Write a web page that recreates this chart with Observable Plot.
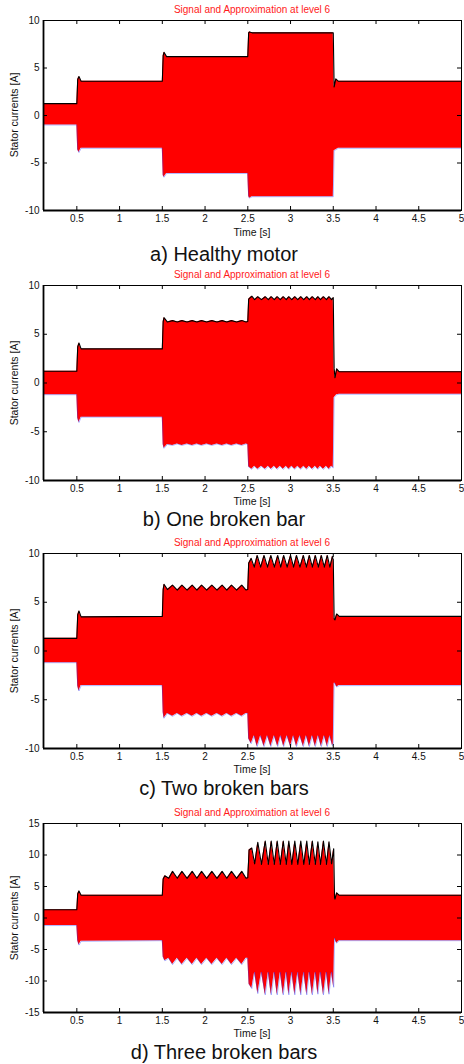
<!DOCTYPE html>
<html><head><meta charset="utf-8">
<script src="https://cdn.jsdelivr.net/npm/d3@7"></script>
<script src="https://cdn.jsdelivr.net/npm/@observablehq/plot@0.6"></script>
<style>
body{margin:0;background:#fff;}
#root{position:relative;width:464px;height:1064px;overflow:hidden;font-family:"Liberation Sans",Arial,sans-serif;background:#fff;}
.lbl{position:absolute;white-space:nowrap;line-height:1;transform:translate(-50%,-50%);}
.ttl{color:#ff1a1a;font-size:10px;}
.xl{font-size:10.5px;color:#111;}
.yl{font-size:10.5px;color:#111;transform:translate(-50%,-50%) rotate(-90deg);}
.cap{font-size:20px;color:#111;}
svg{position:absolute;left:0;overflow:visible;}
</style></head><body><div id="root"></div>
<script>
// ---- texts and ticks ----
const panelTitle = "Signal and Approximation at level 6";
const xLabel = "Time [s]";
const yLabel = "Stator currents [A]";
const captions = ["a) Healthy motor", "b) One broken bar", "c) Two broken bars", "d) Three broken bars"];
const xTicks = [0.5, 1, 1.5, 2, 2.5, 3, 3.5, 4, 4.5, 5];
const yTicks10 = [-10, -5, 0, 5, 10];
const yTicks15 = [-15, -10, -5, 0, 5, 10, 15];

// ---- a) healthy motor: envelope of stator current ----
const healthyT  = [0.10, 0.50, 0.51, 0.525, 0.55, 1.50, 1.51, 1.52, 1.55, 2.50, 2.51, 2.52, 2.55, 3.50, 3.51, 3.53, 3.56, 5.00];
const healthyUp = [1.25, 1.25, 3.8, 4.1, 3.6, 3.6, 6.3, 6.65, 6.2, 6.2, 8.7, 8.8, 8.7, 8.7, 3.0, 3.85, 3.6, 3.6];
const healthyLo = [-1.0, -1.0, -3.6, -3.9, -3.45, -3.45, -6.3, -6.5, -6.1, -6.1, -8.5, -8.7, -8.55, -8.55, -3.7, -3.6, -3.45, -3.45];

// ---- b) one broken bar ----
const oneT = [0.10, 0.50, 0.51, 0.525, 0.55, 1.50, 1.51, 1.52, 1.56,
  1.62, 1.675, 1.73, 1.79, 1.85, 1.905, 1.96, 2.02, 2.08, 2.14, 2.20, 2.255, 2.31, 2.37, 2.43, 2.48,
  2.50, 2.51,
  2.547, 2.58, 2.617, 2.66, 2.704, 2.74, 2.774, 2.81, 2.844, 2.88, 2.915, 2.95, 2.98, 3.015, 3.05, 3.085, 3.12, 3.155, 3.19, 3.22, 3.255, 3.29, 3.32, 3.35, 3.385, 3.42, 3.45, 3.48,
  3.50, 3.51, 3.52, 3.54, 3.57, 5.00];
const oneUp = [1.2, 1.2, 3.7, 4.1, 3.5, 3.5, 6.3, 6.7, 6.25,
  6.4, 6.25, 6.4, 6.25, 6.4, 6.25, 6.4, 6.25, 6.4, 6.25, 6.4, 6.25, 6.4, 6.25, 6.4, 6.25,
  6.3, 8.6,
  8.9, 8.55, 8.85, 8.55, 8.85, 8.55, 8.85, 8.55, 8.85, 8.55, 8.85, 8.55, 8.85, 8.55, 8.85, 8.55, 8.85, 8.55, 8.85, 8.55, 8.85, 8.55, 8.85, 8.55, 8.85, 8.55, 8.85, 8.55,
  8.75, 1.5, 0.55, 1.45, 1.15, 1.15];
const oneLo = [-1.2, -1.2, -3.6, -4.05, -3.5, -3.5, -6.3, -6.7, -6.3,
  -6.4, -6.25, -6.4, -6.25, -6.4, -6.25, -6.4, -6.25, -6.4, -6.25, -6.4, -6.25, -6.4, -6.25, -6.4, -6.25,
  -6.3, -8.6,
  -8.85, -8.55, -8.85, -8.55, -8.85, -8.55, -8.85, -8.55, -8.85, -8.55, -8.85, -8.55, -8.85, -8.55, -8.85, -8.55, -8.85, -8.55, -8.85, -8.55, -8.85, -8.55, -8.85, -8.55, -8.85, -8.55, -8.85, -8.55,
  -8.7, -1.5, -1.4, -1.2, -1.15, -1.15];

// ---- c) two broken bars ----
const twoT = [0.10, 0.50, 0.51, 0.525, 0.55, 1.50, 1.51, 1.52, 1.56,
  1.62, 1.675, 1.73, 1.79, 1.85, 1.905, 1.96, 2.02, 2.08, 2.14, 2.20, 2.255, 2.31, 2.37, 2.43, 2.48,
  2.50, 2.51,
  2.54, 2.575, 2.61, 2.65, 2.69, 2.73, 2.77, 2.81, 2.85, 2.885, 2.92, 2.96, 3.00, 3.035, 3.07, 3.11, 3.15, 3.185, 3.22, 3.255, 3.29, 3.325, 3.36, 3.395, 3.43, 3.46, 3.49, 3.495,
  3.50, 3.51, 3.52, 3.54, 3.57, 5.00];
const twoUp = [1.3, 1.3, 3.7, 4.1, 3.5, 3.55, 6.3, 6.85, 6.3,
  6.75, 6.25, 6.75, 6.25, 6.75, 6.25, 6.75, 6.25, 6.75, 6.25, 6.75, 6.25, 6.75, 6.25, 6.75, 6.25,
  6.3, 9.0,
  9.5, 8.6, 9.8, 8.6, 9.8, 8.6, 9.8, 8.6, 9.8, 8.6, 9.8, 8.6, 9.8, 8.6, 9.8, 8.6, 9.8, 8.6, 9.8, 8.6, 9.8, 8.6, 9.8, 8.6, 9.8, 8.6, 9.7, 9.5,
  9.4, 3.3, 3.2, 3.8, 3.55, 3.55];
const twoLo = [-1.2, -1.2, -3.6, -4.1, -3.55, -3.55, -6.3, -6.9, -6.4,
  -6.7, -6.4, -6.7, -6.4, -6.7, -6.4, -6.7, -6.4, -6.7, -6.4, -6.7, -6.4, -6.7, -6.4, -6.7, -6.4,
  -6.4, -9.0,
  -9.5, -8.7, -9.8, -8.7, -9.8, -8.7, -9.8, -8.7, -9.8, -8.7, -9.8, -8.7, -9.8, -8.7, -9.8, -8.7, -9.8, -8.7, -9.8, -8.7, -9.8, -8.7, -9.8, -8.7, -9.8, -8.7, -9.7, -9.6,
  -9.6, -3.3, -3.3, -3.7, -3.55, -3.55];

// ---- d) three broken bars ----
const threeT = [0.10, 0.50, 0.51, 0.525, 0.55, 1.50, 1.51, 1.53, 1.575,
  1.62, 1.675, 1.73, 1.79, 1.85, 1.905, 1.96, 2.02, 2.08, 2.14, 2.20, 2.255, 2.31, 2.37, 2.43, 2.48,
  2.50, 2.515,
  2.547, 2.58, 2.617, 2.66, 2.704, 2.74, 2.774, 2.81, 2.844, 2.88, 2.915, 2.95, 2.98, 3.015, 3.05, 3.085, 3.12, 3.155, 3.19, 3.22, 3.255, 3.29, 3.32, 3.35, 3.385, 3.42, 3.45, 3.48,
  3.505, 3.515, 3.52, 3.54, 3.57, 5.00];
const threeUp = [1.3, 1.3, 3.8, 4.3, 3.6, 3.6, 6.2, 6.7, 6.3,
  7.4, 6.3, 7.4, 6.3, 7.4, 6.3, 7.4, 6.3, 7.4, 6.3, 7.4, 6.3, 7.4, 6.3, 7.4, 6.3,
  6.4, 10.8,
  11.1, 8.6, 12.0, 8.5, 12.2, 8.5, 12.2, 8.5, 12.2, 8.5, 12.2, 8.5, 12.2, 8.5, 12.2, 8.5, 12.2, 8.5, 12.2, 8.5, 12.2, 8.5, 12.1, 8.5, 12.2, 8.5, 12.1, 8.6,
  11.0, 3.2, 3.0, 4.0, 3.6, 3.6];
const threeLo = [-1.2, -1.2, -3.6, -4.3, -3.7, -3.6, -6.2, -6.8, -6.4,
  -7.4, -6.4, -7.4, -6.4, -7.4, -6.4, -7.4, -6.4, -7.4, -6.4, -7.4, -6.4, -7.4, -6.4, -7.4, -6.4,
  -6.4, -10.5,
  -11.2, -8.6, -12.0, -8.6, -12.2, -8.6, -12.2, -8.6, -12.2, -8.6, -12.2, -8.6, -12.2, -8.6, -12.2, -8.6, -12.2, -8.6, -12.2, -8.6, -12.2, -8.6, -12.1, -8.6, -12.2, -8.6, -12.1, -8.6,
  -11.0, -3.2, -3.4, -4.0, -3.6, -3.6];

// ---- layout (styles only) ----
const W = 464, ML = 43, MR = 3, MT = 6, MB = 30;
const panels = [
  {t: healthyT, up: healthyUp, lo: healthyLo, domain: [-10, 10], ticks: yTicks10, top: 20, bottom: 210, titleY: 10, xlY: 232, capY: 254},
  {t: oneT, up: oneUp, lo: oneLo, domain: [-10, 10], ticks: yTicks10, top: 285, bottom: 480, titleY: 275, xlY: 501, capY: 519},
  {t: twoT, up: twoUp, lo: twoLo, domain: [-10, 10], ticks: yTicks10, top: 553, bottom: 748, titleY: 543, xlY: 769, capY: 788},
  {t: threeT, up: threeUp, lo: threeLo, domain: [-15, 15], ticks: yTicks15, top: 823, bottom: 1012, titleY: 813, xlY: 1033, capY: 1052}
];

const root = document.getElementById("root");
function addLabel(text, cls, x, y) {
  const d = document.createElement("div");
  d.className = "lbl " + cls;
  d.textContent = text;
  d.style.left = x + "px";
  d.style.top = y + "px";
  root.appendChild(d);
}

panels.forEach((p, i) => {
  const rows = p.t.map((t, k) => ({t, up: p.up[k], lo: p.lo[k]}));
  const h = p.bottom - p.top;
  const pw = W - ML - MR;
  const fmt = d => String(d);
  const chart = Plot.plot({
    width: W,
    height: h + MT + MB,
    marginTop: MT, marginBottom: MB, marginLeft: ML, marginRight: MR,
    x: {domain: [0.11, 5]},
    y: {domain: p.domain},
    style: {fontFamily: '"Liberation Sans", Arial, sans-serif', fontSize: "10px", color: "#111", background: "transparent", overflow: "visible"},
    marks: [
      Plot.areaY(rows, {x: "t", y1: "lo", y2: "up", fill: "#ff0000", clip: true}),
      Plot.line(rows, {x: "t", y: "lo", stroke: "#2233ff", strokeWidth: 0.8, strokeOpacity: 0.45, clip: true}),
      Plot.line(rows, {x: "t", y: "up", stroke: "#000", strokeWidth: 1.1, clip: true}),
      Plot.frame({stroke: "#000", strokeWidth: 1}),
      Plot.ruleY([p.domain[0]], {stroke: "#000", strokeWidth: 1.8}),
      Plot.ruleX([0.11], {stroke: "#000", strokeWidth: 1.8}),
      Plot.tickX(xTicks, {x: d => d, insetTop: h - 4, stroke: "#000"}),
      Plot.tickX(xTicks, {x: d => d, insetBottom: h - 4, stroke: "#000"}),
      Plot.tickY(p.ticks, {y: d => d, insetRight: pw - 4, stroke: "#000"}),
      Plot.tickY(p.ticks, {y: d => d, insetLeft: pw - 4, stroke: "#000"}),
      Plot.axisX({ticks: xTicks, tickSize: 0, tickPadding: 4, tickFormat: fmt, label: null}),
      Plot.axisY({ticks: p.ticks, tickSize: 0, tickPadding: 4, tickFormat: fmt, label: null})
    ]
  });
  chart.style.top = (p.top - MT) + "px";
  root.appendChild(chart);
  addLabel(panelTitle, "ttl", 252, p.titleY);
  addLabel(xLabel, "xl", 252, p.xlY);
  addLabel(yLabel, "yl", 14, (p.top + p.bottom) / 2);
  addLabel(captions[i], "cap", 224, p.capY);
});
</script></body></html>
